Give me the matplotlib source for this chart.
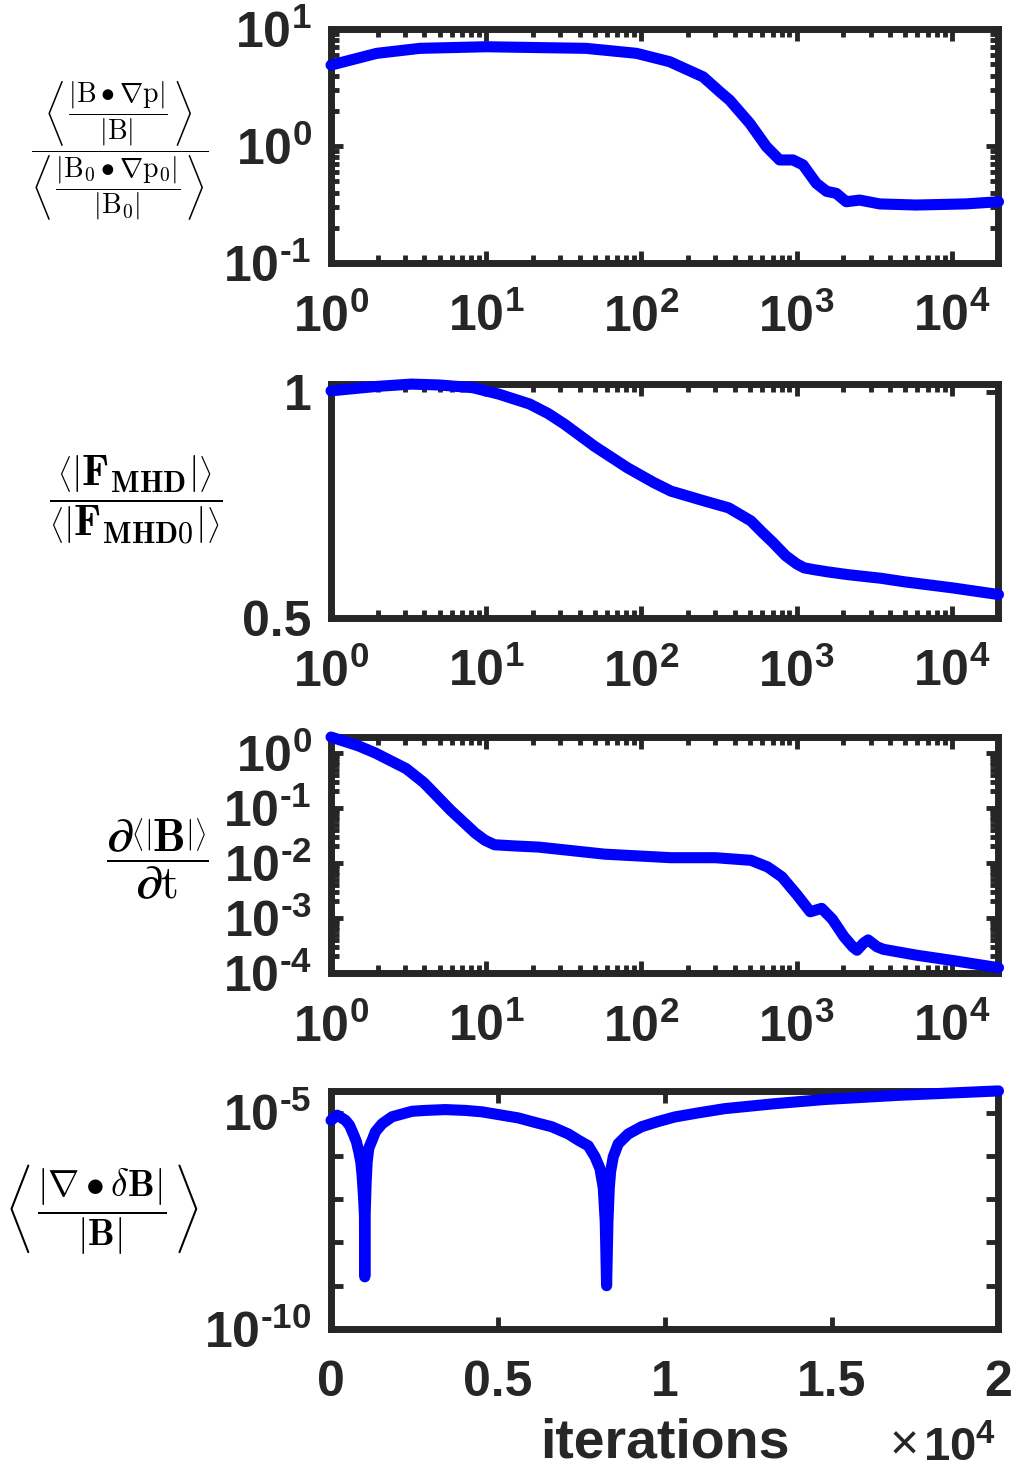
import numpy as np
import matplotlib
matplotlib.use('Agg')
import matplotlib.pyplot as plt
from matplotlib import ticker

plt.rcParams['font.family'] = ['Liberation Sans', 'DejaVu Sans']
plt.rcParams['font.weight'] = 'bold'
plt.rcParams['mathtext.fontset'] = 'custom'
plt.rcParams['mathtext.rm'] = 'Liberation Sans:bold'
plt.rcParams['mathtext.it'] = 'Liberation Sans:bold'
plt.rcParams['mathtext.bf'] = 'Liberation Sans:bold'

# pressure balance ratio
iters1 = [1, 1.97, 3.74, 10, 44, 93, 152, 250, 320, 370, 500, 638, 777, 948, 1100,
          1340, 1560, 1800, 2090, 2550, 3430, 5900, 12300, 20000]
vals1 = [4.92, 6.2, 6.84, 7.06, 6.84, 6.2, 5.26, 3.9, 2.91, 2.47, 1.56, 0.99, 0.76,
         0.76, 0.69, 0.48, 0.41, 0.394, 0.334, 0.345, 0.32, 0.313, 0.32, 0.334]

# MHD force ratio
iters2 = [1, 1.5, 2, 3.3, 5, 8.2, 12, 19, 25, 32, 50, 81, 120, 155, 250, 365, 508,
          600, 700, 850, 1000, 1120, 1300, 1600, 2150, 3500, 5000, 10000, 20000]
vals2 = [1.003, 1.009, 1.013, 1.018, 1.016, 1.01, 0.996, 0.974, 0.953, 0.929, 0.88,
         0.833, 0.80, 0.781, 0.76, 0.744, 0.715, 0.69, 0.668, 0.638, 0.62, 0.611,
         0.607, 0.602, 0.596, 0.588, 0.58, 0.567, 0.552]

# d<|B|>/dt
iters3 = [1, 1.5, 1.93, 3.05, 3.96, 5.9, 8.5, 9.8, 11.3, 15, 21.7, 58, 155, 300, 508,
          650, 804, 1000, 1225, 1450, 1700, 2020, 2300, 2450, 2700, 2890, 3300, 3630,
          6000, 10000, 20000]
vals3 = [1.95, 1.35, 1.0, 0.52, 0.29, 0.091, 0.035, 0.026, 0.0215, 0.0205, 0.0195,
         0.0145, 0.0125, 0.0125, 0.0112, 0.0085, 0.0056, 0.0027, 0.0013, 0.0015,
         0.00095, 0.00046, 0.0003, 0.00026, 0.00035, 0.0004, 0.0003, 0.00027,
         0.00021, 0.00017, 0.000125]

# divergence error
iters4 = [0, 185, 434, 553, 683, 762, 832, 892, 932, 972, 1002, 1012, 1022, 1052,
          1082, 1131, 1231, 1330, 1530, 1830, 2428, 2826, 3424, 4022, 4520, 5118,
          5616, 6115, 6613, 7111, 7410, 7709, 7909, 8058, 8158, 8217, 8257, 8297,
          8337, 8377, 8457, 8606, 8905, 9304, 9802, 10300, 10998, 11796, 13290,
          14785, 17000, 20000]
vals4 = [6.6e-6, 8.7e-6, 6.6e-6, 5.1e-6, 3.0e-6, 2.1e-6, 1.24e-6, 7.2e-7, 3.5e-7,
         1.2e-7, 4.3e-8, 1.6e-9, 4.3e-8, 2.5e-7, 7.2e-7, 1.5e-6, 2.3e-6, 3.6e-6,
         5.5e-6, 8e-6, 1.07e-5, 1.12e-5, 1.17e-5, 1.12e-5, 1.04e-5, 8.7e-6, 7.5e-6,
         5.9e-6, 4.7e-6, 3.2e-6, 2.3e-6, 1.7e-6, 9.5e-7, 5.1e-7, 1.8e-7, 3e-8,
         1.0e-9, 3e-8, 1.8e-7, 4.3e-7, 9.5e-7, 1.9e-6, 3.2e-6, 4.7e-6, 6.2e-6,
         7.9e-6, 9.8e-6, 1.23e-5, 1.6e-5, 2.0e-5, 2.5e-5, 3.16e-5]

ylabels = [
    r'$\dfrac{\left\langle\,\dfrac{|\mathrm{B}\bullet\nabla\mathrm{p}|}{|\mathrm{B}|}\,\right\rangle}'
    r'{\left\langle\,\dfrac{|\mathrm{B_0}\bullet\nabla\mathrm{p_0}|}{|\mathrm{B_0}|}\,\right\rangle}$',
    r'$\dfrac{\left\langle\left|\mathbf{F}_{\mathbf{MHD}}\right|\right\rangle}'
    r'{\left\langle\left|\mathbf{F}_{\mathbf{MHD0}}\right|\right\rangle}$',
    r'$\dfrac{\partial\left\langle\left|\mathbf{B}\right|\right\rangle}{\partial\mathrm{t}}$',
    r'$\left\langle\,\dfrac{|\nabla\bullet\delta\mathbf{B}|}{|\mathbf{B}|}\,\right\rangle$',
]
label_sizes = [20, 31, 33, 27]
label_xy = [(-0.316, 0.48), (-0.292, 0.504), (-0.261, 0.483), (-0.343, 0.502)]

dark = '#262626'
blue = (0, 0, 1)


def pow10(v, pos):
    e = int(round(np.log10(v)))
    s = str(abs(e))
    if e < 0:
        s = r'\text{-}' + s
    return r'$10^{%s}$' % s


def style(ax):
    for sp in ax.spines.values():
        sp.set_linewidth(5)
        sp.set_color(dark)
    ax.tick_params(which='both', direction='in', top=True, right=True,
                   colors=dark, labelsize=36)
    ax.tick_params(axis='x', pad=22)
    ax.tick_params(axis='y', pad=14)
    ax.tick_params(which='major', length=8.5, width=3.5)
    ax.tick_params(which='minor', length=5.5, width=3.5)


fig = plt.figure(figsize=(10.17, 14.75), dpi=100)
L, W = 0.3255, 0.6563
axs = [fig.add_axes([L, 0.8217, W, 0.1586]),
       fig.add_axes([L, 0.5810, W, 0.1586]),
       fig.add_axes([L, 0.3403, W, 0.1600]),
       fig.add_axes([L, 0.0990, W, 0.1614])]

data = [(iters1, vals1), (iters2, vals2), (iters3, vals3), (iters4, vals4)]
for i, ax in enumerate(axs):
    x, y = data[i]
    ax.plot(x, y, color=blue, lw=8, solid_capstyle='round',
            solid_joinstyle='round', clip_on=False, zorder=5)
    style(ax)
    ax.set_ylabel(ylabels[i], rotation=0, fontsize=label_sizes[i],
                  math_fontfamily='cm', ha='center', va='center')
    ax.yaxis.set_label_coords(*label_xy[i])

# log x for the first three
for ax in axs[:3]:
    ax.set_xscale('log')
    ax.set_xlim(1, 2e4)
    ax.xaxis.set_major_locator(ticker.LogLocator(base=10, numticks=10))
    ax.xaxis.set_minor_locator(ticker.LogLocator(base=10, subs=np.arange(2, 10), numticks=50))
    ax.xaxis.set_major_formatter(ticker.FuncFormatter(pow10))
    ax.xaxis.set_minor_formatter(ticker.NullFormatter())

ax = axs[0]
ax.set_yscale('log')
ax.set_ylim(0.1, 10)
ax.yaxis.set_major_locator(ticker.FixedLocator([0.1, 1, 10]))
ax.yaxis.set_minor_locator(ticker.LogLocator(base=10, subs=np.arange(2, 10), numticks=50))
ax.yaxis.set_major_formatter(ticker.FuncFormatter(pow10))
ax.yaxis.set_minor_formatter(ticker.NullFormatter())

ax = axs[1]
ax.set_ylim(0.5, max(vals2))
ax.set_yticks([0.5, 1])
ax.set_yticklabels(['0.5', '1'])

ax = axs[2]
ax.set_yscale('log')
ax.set_ylim(1e-4, max(vals3))
ax.yaxis.set_major_locator(ticker.FixedLocator([1e-4, 1e-3, 1e-2, 1e-1, 1]))
ax.yaxis.set_minor_locator(ticker.LogLocator(base=10, subs=np.arange(2, 10), numticks=50))
ax.yaxis.set_major_formatter(ticker.FuncFormatter(pow10))
ax.yaxis.set_minor_formatter(ticker.NullFormatter())

ax = axs[3]
ax.set_xlim(0, 2e4)
ax.xaxis.set_major_locator(ticker.MultipleLocator(5000))
ax.xaxis.set_major_formatter(ticker.FuncFormatter(lambda v, p: '%g' % (v / 1e4)))
ax.set_yscale('log')
ax.set_ylim(1e-10, max(vals4))
ax.yaxis.set_major_locator(ticker.FixedLocator([1e-10, 1e-9, 1e-8, 1e-7, 1e-6, 1e-5]))
ax.yaxis.set_minor_locator(ticker.NullLocator())
ax.yaxis.set_major_formatter(ticker.FuncFormatter(
    lambda v, p: pow10(v, p) if round(np.log10(v)) in (-5, -10) else ''))
ax.set_xlabel('iterations', fontsize=40, fontweight='bold', color=dark)
ax.xaxis.set_label_coords(0.5, -0.481)
ax.xaxis.label.set_va('center')

# exponent for the linear axis
fig.text(0.889, 0.019, '\u00d7', fontsize=36, fontweight='normal', color=dark,
         ha='center', va='center')
fig.text(0.9075, 0.018, r'$10^{4}$', fontsize=34, color=dark, ha='left', va='center')

fig.savefig('out.png', dpi=100)
